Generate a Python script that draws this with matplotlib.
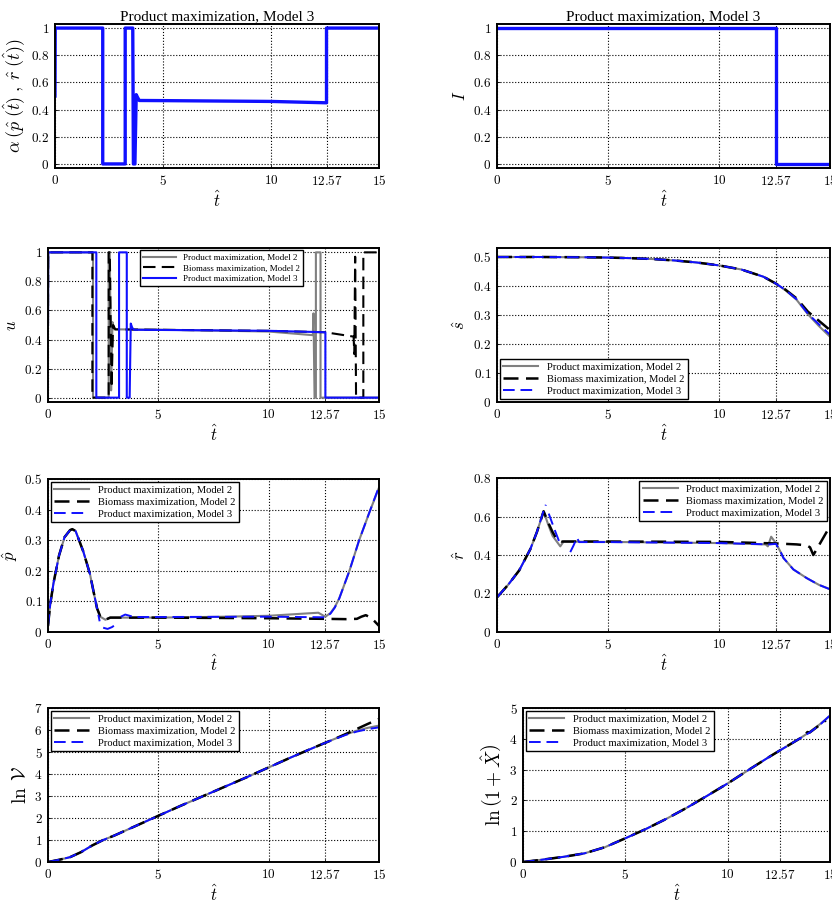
import numpy as np
import matplotlib
matplotlib.use("Agg")
import matplotlib.pyplot as plt

plt.rcParams['mathtext.fontset'] = 'cm'
plt.rcParams['font.family'] = ['Liberation Serif', 'DejaVu Serif']

nan = np.nan

# ---- data ----
x_ticks = [0, 5, 10, 12.57, 15]
x_tick_labels = ['$0$', '$5$', '$10$', '$12.57$', '$15$']
unit_ticks = [0, 0.2, 0.4, 0.6, 0.8, 1]
unit_tick_labels = ['$0$', '$0.2$', '$0.4$', '$0.6$', '$0.8$', '$1$']
s_ticks = [0, 0.1, 0.2, 0.3, 0.4, 0.5]
s_tick_labels = ['$0$', '$0.1$', '$0.2$', '$0.3$', '$0.4$', '$0.5$']
r_ticks = [0, 0.2, 0.4, 0.6, 0.8]
r_tick_labels = ['$0$', '$0.2$', '$0.4$', '$0.6$', '$0.8$']
v_ticks = [0, 1, 2, 3, 4, 5, 6, 7]
v_tick_labels = ['$%d$' % k for k in v_ticks]
x_ln_ticks = [0, 1, 2, 3, 4, 5]
x_ln_tick_labels = ['$%d$' % k for k in x_ln_ticks]

names = ['Product maximization, Model 2', 'Biomass maximization, Model 2',
         'Product maximization, Model 3']
title = 'Product maximization, Model 3'

# alpha(p, r), model 3
alpha_t = [0, 0.01, 2.21, 2.21, 3.25, 3.25, 3.6, 3.63, 3.7, 3.76, 3.82, 3.9, 5, 10, 12.57, 12.57, 15]
alpha_v = [0.5, 1, 1, 0, 0, 1, 1, 0, 0, 0.51, 0.49, 0.467, 0.466, 0.46, 0.45, 1, 1]

# indicator I, model 3
ind_t = [0, 12.57, 12.57, 15]
ind_v = [1, 1, 0, 0]

# control u
u_grey_t = [0, 0.01, 2.04, 2.04, 2.75, 2.75, 2.8, 2.86, 2.92, 3.0, 5, 10, 12.0, 12.03, 12.08,
            12.14, 12.14, 12.35, 12.35, 15]
u_grey_v = [0.5, 1, 1, 0, 0, 1, 1, 0.05, 0.52, 0.47, 0.468, 0.455, 0.43, 0.58, 0.0,
            0.0, 1, 1, 0, 0]
u_black_t = [0, 0.01, 2.01, 2.01, 2.75, 2.75, 2.8, 2.88, 2.95, 3.05, 5, 10, 12.57, 13.85,
             13.88, 13.92, 13.96, 14.29, 14.29, 15]
u_black_v = [0.5, 1, 1, 0, 0, 1, 1, 0.07, 0.5, 0.47, 0.467, 0.46, 0.45, 0.42,
             0.3, 0.97, 0.0, 0.0, 1, 1]
u_blue_t = [0, 0.01, 2.19, 2.19, 3.22, 3.22, 3.57, 3.57, 3.7, 3.75, 3.82, 3.9, 5, 10,
            12.57, 12.57, 15]
u_blue_v = [0.5, 1, 1, 0, 0, 1, 1, 0, 0, 0.51, 0.48, 0.467, 0.466, 0.46,
            0.45, 0, 0]

# substrate s
s_t = [0, 2, 4, 5, 6, 7, 8, 9, 10, 11, 12, 12.57, 13, 13.5, 14, 14.5, 15]
s_grey = [0.5, 0.5, 0.499, 0.498, 0.496, 0.493, 0.488, 0.481, 0.471, 0.457, 0.432, 0.408,
          0.385, 0.352, 0.303, 0.262, 0.225]
s_black = [0.5, 0.5, 0.499, 0.498, 0.496, 0.493, 0.488, 0.481, 0.471, 0.457, 0.432, 0.408,
           0.387, 0.357, 0.312, 0.28, 0.248]
s_blue = [0.5, 0.5, 0.499, 0.498, 0.496, 0.493, 0.488, 0.481, 0.471, 0.457, 0.432, 0.408,
          0.386, 0.354, 0.305, 0.268, 0.232]

# product p
p_grey_t = [0, 0.1, 0.25, 0.5, 0.75, 1.0, 1.1, 1.25, 1.6, 1.9, 2.07, 2.22, 2.37, 2.6, 2.82,
            3.0, 5, 8, 10, 12.25, 12.57, 12.8, 13.0, 13.2, 13.66, 14.1, 14.56, 15]
p_grey_v = [0.02, 0.09, 0.16, 0.25, 0.31, 0.333, 0.336, 0.33, 0.263, 0.19, 0.13, 0.078,
            0.05, 0.04, 0.047, 0.047, 0.047, 0.05, 0.053, 0.063, 0.05, 0.062, 0.082,
            0.11, 0.2, 0.3, 0.39, 0.472]
p_black_t = [0, 0.1, 0.25, 0.5, 0.75, 1.0, 1.1, 1.25, 1.6, 1.9, 2.07, 2.22, 2.37, 2.6, 2.82,
             3.0, 5, 10, 12.57, 13.5, 14.0, 14.2, 14.4, 14.6, 14.8, 15]
p_black_v = [0.02, 0.09, 0.16, 0.25, 0.31, 0.333, 0.336, 0.33, 0.263, 0.19, 0.13, 0.078,
             0.05, 0.04, 0.047, 0.047, 0.047, 0.045, 0.043, 0.042, 0.043, 0.05, 0.055,
             0.048, 0.035, 0.02]
p_blue_t = [0, 0.1, 0.25, 0.5, 0.75, 1.0, 1.1, 1.25, 1.6, 1.9, 2.07, 2.22, 2.3, 2.34, 2.4,
            2.5, 2.7, 2.9, 3.1, 3.2, 3.3, 3.5, 3.7, 3.9, 5, 10, 12.57, 12.8, 13.0, 13.2,
            13.66, 14.1, 14.56, 15]
p_blue_v = [0.02, 0.09, 0.16, 0.25, 0.31, 0.333, 0.336, 0.33, 0.263, 0.19, 0.13, 0.078,
            0.05, 0.035, nan, 0.014, 0.01, 0.016, 0.026, nan, 0.05, 0.057, 0.053, 0.049,
            0.049, 0.05, 0.048, 0.06, 0.08, 0.11, 0.2, 0.3, 0.39, 0.475]

# ratio r
r_grey_t = [0, 0.5, 1.0, 1.5, 1.8, 2.1, 2.3, 2.5, 2.85, 3.0, 5, 10, 12.1, 12.2, 12.35, 12.57,
            12.8, 12.9, 13.35, 13.95, 14.5, 15]
r_grey_v = [0.18, 0.245, 0.32, 0.43, 0.52, 0.627, 0.56, 0.5, 0.445, 0.47, 0.468, 0.462,
            0.455, 0.445, 0.495, 0.46, 0.41, 0.385, 0.325, 0.28, 0.245, 0.222]
r_black_t = [0, 0.5, 1.0, 1.5, 1.8, 2.1, 2.3, 2.5, 2.7, 2.9, 5, 10, 12.57, 13.5, 13.95,
             14.1, 14.25, 14.6, 15]
r_black_v = [0.18, 0.245, 0.32, 0.43, 0.52, 0.627, 0.57, 0.52, 0.48, 0.47, 0.47, 0.468,
             0.46, 0.455, 0.45, 0.44, 0.4, 0.47, 0.55]
r_blue_t = [0, 0.5, 1.0, 1.5, 1.8, 2.1, 2.2, 2.27, 2.33, 2.6, 2.8, 3.0, 3.3, 3.45, 3.6, 3.7,
            5, 10, 12.3, 12.57, 12.8, 12.9, 13.35, 13.95, 14.5, 15]
r_blue_v = [0.18, 0.245, 0.32, 0.43, 0.52, 0.63, 0.661, nan, 0.615, 0.53, 0.47, nan,
            0.415, 0.45, 0.49, 0.467, 0.467, 0.462, 0.455, 0.458, 0.41, 0.385, 0.325,
            0.28, 0.245, 0.222]

# ln V
v_t = [0, 0.5, 1, 1.5, 2, 2.5, 3, 4, 5, 6, 7.5, 9, 10, 11, 12, 12.57, 13, 13.5, 14, 14.5, 15]
v_grey = [0, 0.1, 0.22, 0.45, 0.75, 1.0, 1.2, 1.65, 2.1, 2.55, 3.2, 3.85, 4.3, 4.75, 5.18,
          5.42, 5.6, 5.8, 5.97, 6.1, 6.2]
v_black = [0, 0.1, 0.22, 0.45, 0.75, 1.0, 1.2, 1.65, 2.1, 2.55, 3.2, 3.85, 4.3, 4.75, 5.18,
           5.42, 5.6, 5.82, 6.05, 6.28, 6.5]
v_blue = [0, 0.1, 0.22, 0.45, 0.75, 1.0, 1.2, 1.65, 2.1, 2.55, 3.2, 3.85, 4.3, 4.75, 5.18,
          5.42, 5.59, 5.78, 5.93, 6.04, 6.12]

# ln(1 + X)
x_t = [0, 1, 2, 3, 4, 5, 6, 7, 8, 9, 10, 11, 12, 12.57, 13, 13.5, 14, 14.5, 15]
x_grey = [0, 0.08, 0.17, 0.28, 0.48, 0.77, 1.07, 1.4, 1.76, 2.15, 2.55, 2.98, 3.4, 3.63,
          3.8, 4.0, 4.22, 4.47, 4.75]
x_blue = [0, 0.08, 0.17, 0.28, 0.48, 0.77, 1.07, 1.4, 1.76, 2.15, 2.55, 2.98, 3.4, 3.63,
          3.8, 4.0, 4.2, 4.45, 4.76]
x_black_t = [0, 1, 2, 3, 4, 5, 6, 7, 8, 9, 10, 11, 12, 12.57, 13, 13.5, 13.8, 13.9, 14.0,
             14.8]
x_black = [0, 0.08, 0.17, 0.28, 0.48, 0.77, 1.07, 1.4, 1.76, 2.15, 2.55, 2.98, 3.4, 3.63,
           3.8, 4.0, 4.15, 4.22, 4.2, 4.6]

W, H = 832, 905
fig = plt.figure(figsize=(W / 100, H / 100), dpi=100)


def box(x0, x1, y0, y1):
    # pixel box -> figure fraction
    return fig.add_axes([x0 / W, (H - y1) / H, (x1 - x0) / W, (y1 - y0) / H])


def style(ax, yt, ytl, ylim, ylabel, ylsize=12):
    ax.set_xlim(0, 15)
    ax.set_ylim(*ylim)
    ax.set_xticks(x_ticks)
    ax.set_xticklabels(x_tick_labels, fontsize=9.5)
    ax.set_yticks(yt)
    ax.set_yticklabels(ytl, fontsize=9.5)
    ax.tick_params(direction='in', length=2, width=0.6, pad=4)
    ax.grid(True, linestyle=':', color='k', linewidth=0.8)
    for sp in ax.spines.values():
        sp.set_linewidth(1.4)
    ax.set_xlabel(r'$\hat{t}$', fontsize=12, labelpad=2)
    ax.set_ylabel(ylabel, fontsize=ylsize, labelpad=3)


grey_kw = dict(color='#808080', lw=1.5)
black_kw = dict(color='k', lw=1.8, linestyle=(0, (6, 3)))
blue_kw = dict(color='#1010ff', lw=1.4, linestyle=(0, (6, 3)))
leg_kw = dict(fontsize=7.6, fancybox=False, edgecolor='k', framealpha=1, borderpad=0.35,
              labelspacing=0.25, handlelength=3.3, borderaxespad=0.25)

# row 1
ax = box(55, 379, 24, 168)
ax.plot(alpha_t, alpha_v, color='#1010ff', lw=2.4)
style(ax, unit_ticks, unit_tick_labels, (-0.03, 1.03),
      r'$\alpha\;(\hat{p}\;(\hat{t})\;,\;\hat{r}\;(\hat{t}))$', 13)
ax.set_title(title, fontsize=11, pad=3)

ax = box(497, 830, 24, 168)
ax.plot(ind_t, ind_v, color='#1010ff', lw=2.4)
style(ax, unit_ticks, unit_tick_labels, (-0.03, 1.03), r'$I$')
ax.set_title(title, fontsize=11, pad=3)

# row 2
ax = box(48, 379, 248, 402)
ax.plot(u_grey_t, u_grey_v, label=names[0], **grey_kw)
ax.plot(u_black_t, u_black_v, label=names[1], color='k', lw=1.5, linestyle=(0, (6, 3)))
ax.plot(u_blue_t, u_blue_v, label=names[2], color='#1010ff', lw=1.5)
style(ax, unit_ticks, unit_tick_labels, (-0.03, 1.03), r'$u$')
leg_u = dict(leg_kw)
leg_u['fontsize'] = 6.5
leg_u['handlelength'] = 3.6
ax.legend(loc='upper center', bbox_to_anchor=(0.525, 1.0), **leg_u)

ax = box(497, 830, 248, 402)
ax.plot(s_t, s_grey, label=names[0], **grey_kw)
ax.plot(s_t, s_black, label=names[1], **black_kw)
ax.plot(s_t, s_blue, label=names[2], **blue_kw)
style(ax, s_ticks, s_tick_labels, (0, 0.531), r'$\hat{s}$')
ax.legend(loc='lower left', **leg_kw)

# row 3
ax = box(48, 379, 479, 632)
ax.plot(p_grey_t, p_grey_v, label=names[0], **grey_kw)
ax.plot(p_black_t, p_black_v, label=names[1], **black_kw)
ax.plot(p_blue_t, p_blue_v, label=names[2], **blue_kw)
style(ax, s_ticks, s_tick_labels, (0, 0.5), r'$\hat{p}$')
ax.legend(loc='upper left', **leg_kw)

ax = box(497, 830, 478, 632)
ax.plot(r_grey_t, r_grey_v, label=names[0], **grey_kw)
ax.plot(r_black_t, r_black_v, label=names[1], **black_kw)
ax.plot(r_blue_t, r_blue_v, label=names[2], **blue_kw)
style(ax, r_ticks, r_tick_labels, (0, 0.8), r'$\hat{r}$')
ax.legend(loc='upper right', **leg_kw)

# row 4
ax = box(48, 379, 708, 862)
ax.plot(v_t, v_grey, label=names[0], **grey_kw)
ax.plot(v_t, v_black, label=names[1], **black_kw)
ax.plot(v_t, v_blue, label=names[2], **blue_kw)
style(ax, v_ticks, v_tick_labels, (0, 7), r'$\ln\;\mathcal{V}$', 14)
ax.legend(loc='upper left', **leg_kw)

ax = box(523, 830, 708, 862)
ax.plot(x_t, x_grey, label=names[0], **grey_kw)
ax.plot(x_black_t, x_black, label=names[1], **black_kw)
ax.plot(x_t, x_blue, label=names[2], **blue_kw)
style(ax, x_ln_ticks, x_ln_tick_labels, (0, 5), r'$\ln\left(1+\hat{X}\right)$', 14)
ax.legend(loc='upper left', **leg_kw)

fig.savefig('out.png', dpi=100)
